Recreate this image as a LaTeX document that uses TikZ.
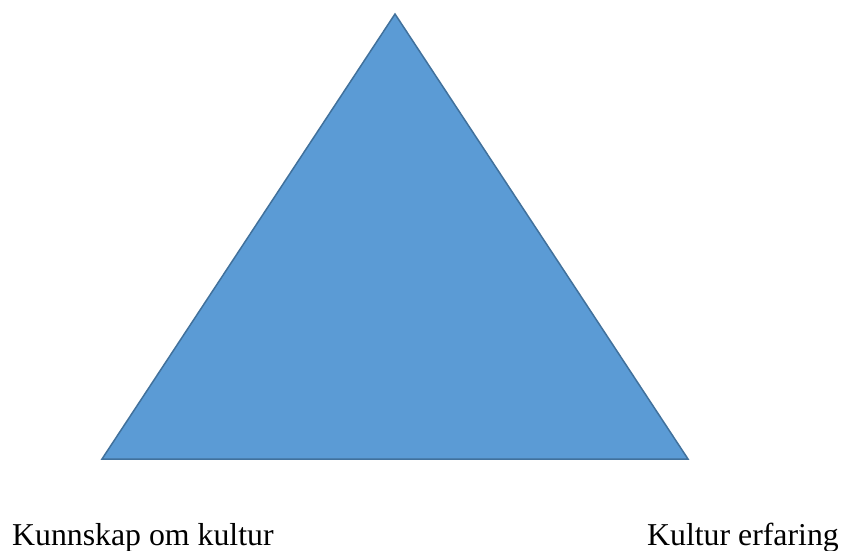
\documentclass[tikz,border=0pt]{standalone}
\usepackage{fontspec}
\setmainfont{Liberation Serif}
\definecolor{trifill}{HTML}{5B9BD5}
\definecolor{triline}{HTML}{41719C}

\begin{document}
\begin{tikzpicture}[x=1pt, y=-1pt,
    hjoerne/.style={font=\fontsize{31.8}{38}\selectfont, inner sep=0pt}]
  \useasboundingbox (0,0) rectangle (843,550);
  % trekanten
  \coordinate (topp) at (395,14);
  \coordinate (venstre) at (102,459);
  \coordinate (hoyre) at (688,459);
  \draw[fill=trifill, draw=triline, line width=1.5pt, line join=miter]
    (topp) -- (venstre) -- (hoyre) -- cycle;
  % etiketter
  \node[hjoerne, anchor=base west] (kunnskap) at (12,545) {Kunnskap om kultur};
  \node[hjoerne, anchor=base east] (erfaring) at (839,545) {Kultur erfaring};
\end{tikzpicture}
\end{document}
